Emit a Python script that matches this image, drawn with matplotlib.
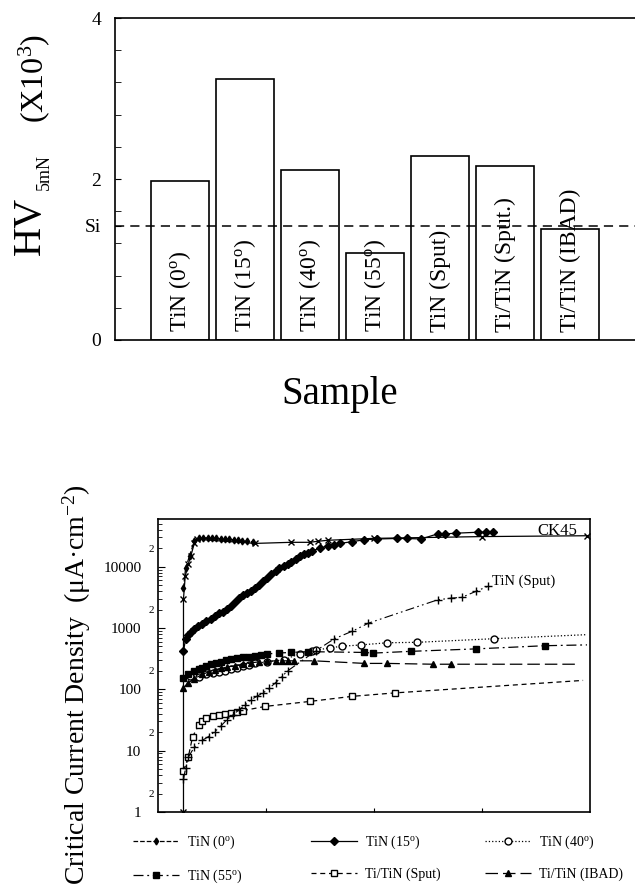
# ===================================================================
#   Hardness of TiN films and critical current density curves
# ===================================================================
import numpy as np
import matplotlib.pyplot as plt

plt.rcParams['font.family'] = ['Liberation Serif', 'DejaVu Serif']
plt.rcParams['mathtext.fontset'] = 'custom'
plt.rcParams['mathtext.rm'] = 'Liberation Serif'
plt.rcParams['mathtext.it'] = 'Liberation Serif:italic'
plt.rcParams['axes.linewidth'] = 1.2

# ===================================================================
# Data
# ===================================================================
samples = [r'TiN (0$^{\rm o}$)', r'TiN (15$^{\rm o}$)', r'TiN (40$^{\rm o}$)',
           r'TiN (55$^{\rm o}$)', 'TiN (Sput)', 'Ti/TiN (Sput.)', 'Ti/TiN (IBAD)']
hardness = [1.97, 3.24, 2.11, 1.08, 2.29, 2.16, 1.38]
si_level = 1.42

# current density curves (x: arbitrary scan units 0-100, y: uA/cm2)
ck45_x = [5.9, 5.9, 6.3, 7.0, 7.6, 8.4, 9.0, 22.5, 30.8, 35.1, 37.0, 39.4, 50.0, 75.0, 99.3]
ck45_y = [1.0, 3000, 7000, 11000, 15000, 24000, 28000, 24000, 25000, 25000, 26000, 27000,
          29000, 31000, 32000]

tin0_x = [5.9, 6.4, 7.3, 8.4, 9.4, 10.5, 11.5, 12.5, 13.5, 14.5, 15.5, 16.5, 17.5, 18.5,
          19.5, 20.5, 22.0]
tin0_y = [4500, 9600, 15000, 26000, 29000, 29500, 29500, 29000, 29000, 28500, 28000, 28000,
          27500, 27000, 26500, 26000, 25500]

tin15_x = [5.9, 6.4, 7.0, 7.7, 8.4, 9.3, 10.3, 11.2, 12.2, 13.1, 14.1, 15.0, 15.9, 16.9,
           17.8, 18.7, 19.7, 20.6, 21.6, 22.5, 23.4, 24.4, 25.3, 26.2, 27.2, 28.1, 29.1,
           30.0, 30.9, 31.9, 32.8, 33.7, 34.7, 35.6, 37.5, 39.4, 40.8, 42.2, 45.0, 47.8,
           50.6, 55.3, 57.6, 60.9, 64.7, 66.5, 68.9, 74.0, 75.9, 77.6]
tin15_y = [420, 670, 760, 870, 980, 1080, 1180, 1300, 1430, 1600, 1750, 1860, 2050, 2300,
           2650, 3080, 3400, 3700, 3970, 4500, 5100, 5800, 6500, 7500, 8500, 9400, 10200,
           10900, 12000, 13500, 15000, 16000, 17000, 18200, 20000, 22000, 23000, 24000,
           25700, 27500, 28300, 28900, 28900, 28300, 34300, 34300, 35200, 36500, 36500, 37500]

tin40_x = [7.5, 9.4, 11.2, 12.7, 14.1, 15.5, 16.9, 18.3, 19.7, 21.1, 22.5, 25.3, 29.1, 32.8,
           35.6, 36.6, 39.8, 42.6, 46.9, 53.0, 60.0, 77.8, 99.3]
tin40_y = [165, 161, 176, 184, 192, 202, 213, 224, 236, 250, 265, 282, 304, 380, 417, 436,
           475, 505, 530, 575, 585, 670, 780]

tin55_x = [5.9, 7.0, 8.4, 9.4, 10.3, 11.2, 12.2, 13.4, 14.5, 15.7, 16.9, 18.3, 19.7, 21.1,
           22.5, 23.9, 25.3, 28.1, 30.9, 34.7, 47.8, 49.7, 58.6, 73.6, 89.5, 99.3]
tin55_y = [155, 176, 200, 213, 227, 242, 257, 270, 282, 297, 312, 322, 331, 343, 355, 366,
           378, 392, 400, 412, 400, 390, 417, 457, 515, 531]

ibad_x = [5.9, 7.0, 8.4, 10.3, 11.7, 13.1, 14.5, 15.9, 17.8, 19.7, 21.6, 23.4, 25.3, 27.2,
          28.6, 30.0, 31.4, 36.1, 47.8, 53.0, 63.7, 67.9, 97.0]
ibad_y = [106, 128, 149, 176, 192, 208, 219, 229, 243, 257, 270, 282, 287, 292, 292, 292,
          292, 292, 265, 265, 257, 257, 257]

tinsput_x = [5.9, 6.4, 7.0, 8.4, 10.3, 11.7, 13.1, 14.5, 15.9, 17.3, 18.7, 20.2, 21.6, 23.0,
             24.4, 25.8, 27.2, 28.6, 30.0, 36.6, 40.8, 45.0, 48.7, 64.7, 67.9, 70.3, 73.6, 76.4]
tinsput_y = [3.4, 5.3, 7.8, 11.4, 14.8, 17.0, 20.3, 25.0, 31.7, 38.0, 46, 56, 68, 78, 88,
             105, 128, 160, 200, 428, 668, 890, 1200, 2880, 3080, 3160, 3970, 4800]

tiSput_x = [5.9, 7.0, 8.0, 9.4, 10.3, 11.2, 12.7, 14.1, 15.5, 16.9, 18.3, 19.7, 24.8, 35.1,
            45.0, 54.8, 98.4]
tiSput_y = [4.7, 7.8, 16.8, 26.2, 30.5, 33.8, 36.5, 38.3, 39.8, 41.0, 43.0, 45.0, 52.7, 63.5,
            77.0, 87.5, 140]

# ===================================================================
# Figure
# ===================================================================
fig = plt.figure(figsize=(6.35, 8.86), dpi=100)

# ---------------- top panel: micro hardness bars -------------------
ax1 = fig.add_axes([115 / 635, 1 - 340 / 886, 1 - 115 / 635, 322 / 886])
pos = np.arange(len(samples))
ax1.bar(pos, hardness, width=0.88, color='white', edgecolor='black', linewidth=1.2)
for i, lab in enumerate(samples):
    ax1.text(pos[i], 0.1, lab, rotation=90, ha='center', va='bottom', fontsize=17)
ax1.axhline(si_level, color='black', linestyle=(0, (6, 4)), linewidth=1.1)
ax1.set_xlim(-1, 7)
ax1.set_ylim(0, 4)
ax1.set_xticks([])
ax1.set_yticks([0, 2, si_level, 4])
ax1.set_yticklabels(['0', '2', 'Si', '4'], fontsize=14)
ax1.set_yticks(np.arange(0.4, 4, 0.4), minor=True)
ax1.tick_params(axis='y', which='both', direction='in', length=4, pad=10)
ax1.spines['right'].set_visible(False)

# y label: big HV with small subscript, then the scale factor
fig.text(30 / 635, 1 - 226 / 886, 'HV', rotation=90, ha='center', va='center', fontsize=29)
fig.text(44 / 635, 1 - 172 / 886, '5mN', rotation=90, ha='center', va='center', fontsize=13)
fig.text(34 / 635, 1 - 78 / 886, r'(X10$^{3}$)', rotation=90, ha='center', va='center',
         fontsize=23)
fig.text(0.535, 1 - 395 / 886, 'Sample', ha='center', va='center', fontsize=28)

# ---------------- bottom panel: current density --------------------
ax2 = fig.add_axes([158 / 635, 1 - 812 / 886, 432 / 635, 293 / 886])
ax2.plot(ck45_x, ck45_y, color='black', linewidth=0.9, marker='x', markersize=4)
ax2.plot(tin0_x, tin0_y, color='black', linewidth=0.9, linestyle='--', marker='d',
         markersize=3.5, label=r'TiN (0$^{\rm o}$)')
ax2.plot(tin15_x, tin15_y, color='black', linewidth=0.9, marker='D', markersize=4.5,
         label=r'TiN (15$^{\rm o}$)')
ax2.plot(tin40_x, tin40_y, color='black', linewidth=0.9, linestyle=':', marker='o',
         markersize=5, markerfacecolor='white', markevery=list(range(len(tin40_x) - 1)),
         label=r'TiN (40$^{\rm o}$)')
ax2.plot(tin55_x, tin55_y, color='black', linewidth=0.9, linestyle=(0, (8, 3, 1.5, 3)),
         marker='s', markersize=4.5, markevery=list(range(len(tin55_x) - 1)),
         label=r'TiN (55$^{\rm o}$)')
ax2.plot(tiSput_x, tiSput_y, color='black', linewidth=0.9, linestyle=(0, (4, 3)),
         marker='s', markersize=5, markerfacecolor='white',
         markevery=list(range(len(tiSput_x) - 1)), label='Ti/TiN (Sput)')
ax2.plot(ibad_x, ibad_y, color='black', linewidth=0.9, linestyle=(0, (10, 4)), marker='^',
         markersize=4.5, markevery=list(range(len(ibad_x) - 1)), label='Ti/TiN (IBAD)')
ax2.plot(tinsput_x, tinsput_y, color='black', linewidth=0.8,
         linestyle=(0, (8, 3, 1.5, 3, 1.5, 3)), marker='+', markersize=6)
ax2.text(77.3, 5800, 'TiN (Sput)', ha='left', va='center', fontsize=10.5)
ax2.text(0.97, 0.985, 'CK45', transform=ax2.transAxes, ha='right', va='top', fontsize=12)

ax2.set_yscale('log')
ax2.set_xlim(0, 100)
ax2.set_ylim(1, 6e4)
ax2.set_xticks([25, 50, 75])
ax2.set_xticklabels([])
ax2.tick_params(axis='x', direction='in', length=3)
ax2.set_yticks([1, 10, 100, 1000, 10000])
ax2.set_yticklabels(['1', '10', '100', '1000', '10000'], fontsize=11)
minor = [m * 10.0 ** d for d in range(5) for m in range(2, 10) if m * 10.0 ** d < 6e4]
ax2.set_yticks(minor, minor=True)
ax2.set_yticklabels(['2' if str(v).startswith('2') else '' for v in minor], minor=True,
                    fontsize=8)
ax2.tick_params(axis='y', which='major', direction='in', length=5, pad=12)
ax2.tick_params(axis='y', which='minor', direction='in', length=3, pad=3)

fig.text(77 / 635, 1 - 685 / 886, 'Critical Current Density  (μA·cm$^{-2}$)', rotation=90,
         ha='center', va='center', fontsize=20)

# legend below the plot: three columns, placed one by one
handles, labels = ax2.get_legend_handles_labels()
columns = [(0, 3), (1, 4), (2, 5)]
col_left = [133, 311, 485]
for (a, b), xl in zip(columns, col_left):
    fig.legend([handles[a], handles[b]], [labels[a], labels[b]], loc='upper left',
               bbox_to_anchor=(xl / 635, 1 - 834 / 886), frameon=False, fontsize=10,
               handlelength=3.3, handletextpad=0.6, labelspacing=1.15,
               borderpad=0, borderaxespad=0)

fig.savefig('out.png', dpi=100)
